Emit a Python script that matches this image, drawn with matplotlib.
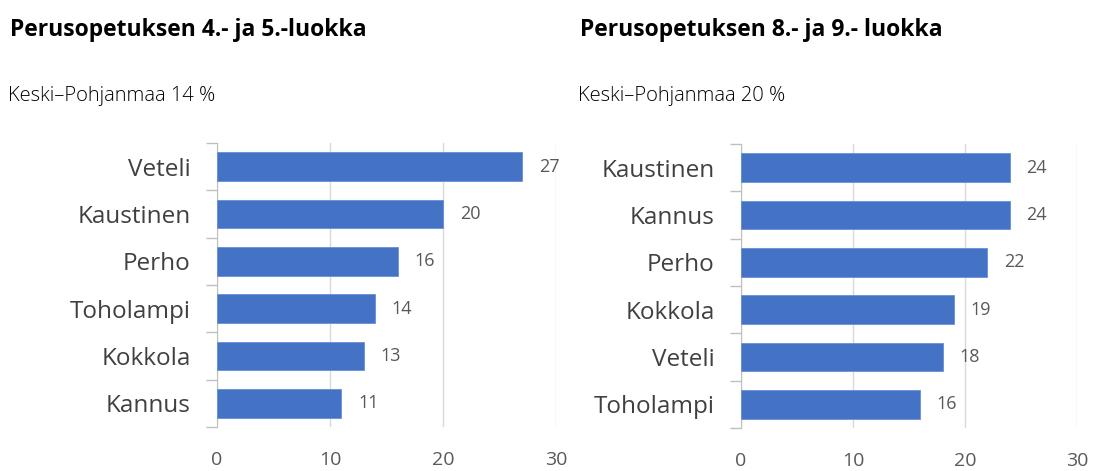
import matplotlib.pyplot as plt
import numpy as np

plt.rcParams['font.family'] = ['Open Sans', 'DejaVu Sans']

# Perusopetuksen 4.- ja 5.-luokka
towns_45 = ["Veteli", "Kaustinen", "Perho", "Toholampi", "Kokkola", "Kannus"]
values_45 = [27, 20, 16, 14, 13, 11]

# Perusopetuksen 8.- ja 9.- luokka
towns_89 = ["Kaustinen", "Kannus", "Perho", "Kokkola", "Veteli", "Toholampi"]
values_89 = [24, 24, 22, 19, 18, 16]

titles = ["Perusopetuksen 4.- ja 5.-luokka", "Perusopetuksen 8.- ja 9.- luokka"]
subtitles = ["Keski–Pohjanmaa 14 %", "Keski–Pohjanmaa 20 %"]
x_ticks = [0, 10, 20, 30]

BAR = "#4472C4"
TXT = "#595959"
GRID = "#d9d9d9"

fig = plt.figure(figsize=(10.96, 4.71), dpi=100)


def draw_panel(rect, towns, values):
    ax = fig.add_axes(rect)
    y = np.arange(len(towns))
    ax.barh(y, values, height=0.6, color=BAR, edgecolor="#6a8fd6", linewidth=0.6, zorder=3)
    for yi, v in zip(y, values):
        ax.annotate(str(v), (v, yi), xytext=(12, 0), textcoords="offset points",
                    va="center", ha="left", fontsize=13, color=TXT)
    ax.set_ylim(len(towns) - 0.5, -0.5)
    ax.set_xlim(0, 30)
    ax.set_yticks(y)
    ax.set_yticklabels(towns, fontsize=17.5, color="#404040")
    ax.set_yticks(np.arange(len(towns) + 1) - 0.5, minor=True)
    ax.tick_params(axis="y", which="major", length=0, pad=19)
    ax.tick_params(axis="y", which="minor", length=8, color="#bfbfbf", width=1)
    ax.set_xticks(x_ticks)
    ax.set_xticklabels([str(t) for t in x_ticks], fontsize=14, color=TXT)
    ax.tick_params(axis="x", length=0, pad=17)
    ax.grid(axis="x", color=GRID, linewidth=1, zorder=0)
    for side in ["top", "right", "bottom"]:
        ax.spines[side].set_visible(False)
    ax.spines["left"].set_color("#bfbfbf")
    return ax


draw_panel([217 / 1096, 0.0934, 339 / 1096, 0.603], towns_45, values_45)
draw_panel([741 / 1096, 0.0913, 336 / 1096, 0.603], towns_89, values_89)

for x0, title, sub in zip([10 / 1096, 580 / 1096], titles, subtitles):
    fig.text(x0, 1 - 30 / 471, title, fontsize=16.5, fontweight="bold", color="black", va="center")
    fig.text(x0 - 2 / 1096, 1 - 96 / 471, sub, fontsize=14.5, fontweight="light", color="black", va="center")

fig.savefig("out.png", dpi=100, facecolor="white")
